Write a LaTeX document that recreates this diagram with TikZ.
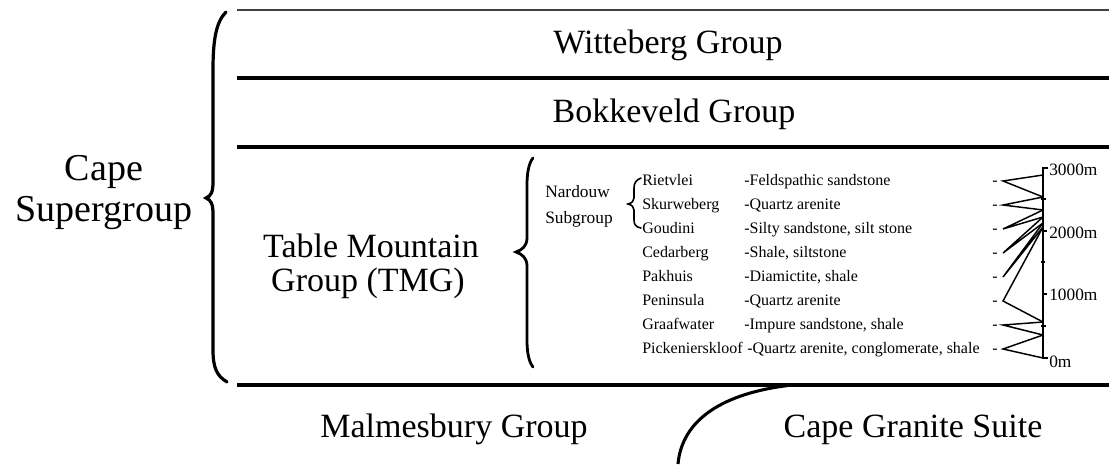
\documentclass[tikz,border=0pt]{standalone}
\usepackage{fontspec}
\setmainfont{Liberation Serif}
\begin{document}
\begin{tikzpicture}[x=0.75pt,y=-0.75pt,
  big/.style={font=\fontsize{25.5}{30}\selectfont, inner sep=0pt, anchor=base},
  huge/.style={font=\fontsize{28.5}{34}\selectfont, inner sep=0pt, anchor=base},
  small/.style={font=\fontsize{12}{14}\selectfont, inner sep=0pt, anchor=base west},
  sublab/.style={font=\fontsize{13}{15}\selectfont, inner sep=0pt, anchor=base west},
  scalelab/.style={font=\fontsize{13}{15}\selectfont, inner sep=0pt, anchor=west},
  layer/.style={line width=2.3pt},
  brace/.style={line width=2.4pt, line cap=round},
  smallbrace/.style={line width=1.2pt, line cap=round},
  zig/.style={line width=1.1pt},
  axisline/.style={line width=2pt},
]
\useasboundingbox (0,0) rectangle (1109,464);

% horizontal layer boundaries
\coordinate (t0) at (237,10);  \coordinate (t1) at (1109,10);
\coordinate (a0) at (237,78);  \coordinate (a1) at (1109,78);
\coordinate (c0) at (237,147); \coordinate (c1) at (1109,147);
\coordinate (d0) at (237,385); \coordinate (d1) at (1109,385);
\draw[line width=1.6pt, black!75] (t0) -- (t1);
\draw[layer] (a0) -- (a1);
\draw[layer] (c0) -- (c1);
\draw[layer] (d0) -- (d1);

% granite contact
\coordinate (g0) at (792,385);
\coordinate (g1) at (678,464);
\draw[layer] (g0) .. controls (722,393) and (682,420) .. (g1);

% Cape Supergroup brace
\draw[brace] (226,12) .. controls (216,22) and (213,40) .. (213,70) -- (213,182)
  .. controls (213,192) and (211,196) .. (206,198)
  .. controls (211,200) and (213,204) .. (213,214) -- (213,350)
  .. controls (213,368) and (217,376) .. (227,382);

% TMG brace
\draw[brace, line width=2.1pt] (533,158) .. controls (529,163) and (527,172) .. (527,185) -- (527,238)
  .. controls (527,246) and (522,250) .. (516,252)
  .. controls (522,254) and (527,258) .. (527,266) -- (527,340)
  .. controls (527,353) and (529,362) .. (533,367);

% Nardouw brace
\draw[smallbrace] (641,178) .. controls (636,180) and (634,183) .. (634,188) -- (634,198)
  .. controls (634,201) and (632,203) .. (628,204)
  .. controls (632,205) and (634,207) .. (634,210) -- (634,220)
  .. controls (634,225) and (636,227) .. (641,228);

% big labels
\node[huge] (cape) at (104,180) {Cape};
\node[huge] (super) at (104,221) {Supergroup};
\node[big] (witt) at (668,53) {Witteberg Group};
\node[big] (bokk) at (674,122) {Bokkeveld Group};
\node[big] (tmg1) at (371,257) {Table Mountain};
\node[big] (tmg2) at (368,291) {Group (TMG)};
\node[big] (malm) at (454,437) {Malmesbury Group};
\node[big] (cgs) at (913,437) {Cape Granite Suite};

% Nardouw subgroup label
\node[sublab] (nard) at (545,197) {Nardouw};
\node[sublab] (subg) at (545,223) {Subgroup};

% formation rows
\foreach \n/\d/\x [count=\i from 0] in {
  Rietvlei/{-Feldspathic sandstone}/744,
  Skurweberg/{-Quartz arenite}/744,
  Goudini/{-Silty sandstone, silt stone}/744,
  Cedarberg/{-Shale, siltstone}/744,
  Pakhuis/{-Diamictite, shale}/744,
  Peninsula/{-Quartz arenite}/744,
  Graafwater/{-Impure sandstone, shale}/744,
  Pickenierskloof/{-Quartz arenite, conglomerate, shale}/747} {
  \node[small] (name\i) at (642,185+24*\i) {\n};
  \node[small] (desc\i) at (\x,185+24*\i) {\d};
  \node[small] (dash\i) at (992,185+24*\i) {-};
  \coordinate (w\i) at (1003,181+24*\i);
}

% thickness scale axis
\coordinate (s3000) at (1043,168);
\coordinate (s0) at (1043,358);
\draw[axisline] (1048,168) -- (s3000) -- (s0) -- (1048,358);
\draw[axisline] (1043,231) -- (1047,231);
\draw[axisline] (1043,294) -- (1047,294);
\draw[axisline] (1041,199) -- (1046,199);
\draw[axisline] (1041,262) -- (1045,262);
\draw[axisline] (1041,326) -- (1046,326);
\node[scalelab] (l3000) at (1049,170) {3000m};
\node[scalelab] (l2000) at (1049,233) {2000m};
\node[scalelab] (l1000) at (1049,295) {1000m};
\node[scalelab] (l0) at (1049,362) {0m};

% boundaries on the axis (bottom to top)
\coordinate (b0) at (1043,358);
\coordinate (b1) at (1043,335);
\coordinate (b2) at (1043,322);
\coordinate (b3) at (1043,227);
\coordinate (b4) at (1043,223);
\coordinate (b5) at (1043,217);
\coordinate (b6) at (1043,210);
\coordinate (b7) at (1043,197);
\coordinate (b8) at (1043,175);

\draw[zig] (b8) -- (w0) -- (b7);
\draw[zig] (b7) -- (w1) -- (b6);
\draw[zig] (b6) -- (w2) -- (b5);
\draw[zig] (b5) -- (w3) -- (b4);
\draw[zig] (b4) -- (w4) -- (b3);
\draw[zig] (b3) -- (w5) -- (b2);
\draw[zig] (b2) -- (w6) -- (b1);
\draw[zig] (b1) -- (w7) -- (b0);
\end{tikzpicture}
\end{document}
